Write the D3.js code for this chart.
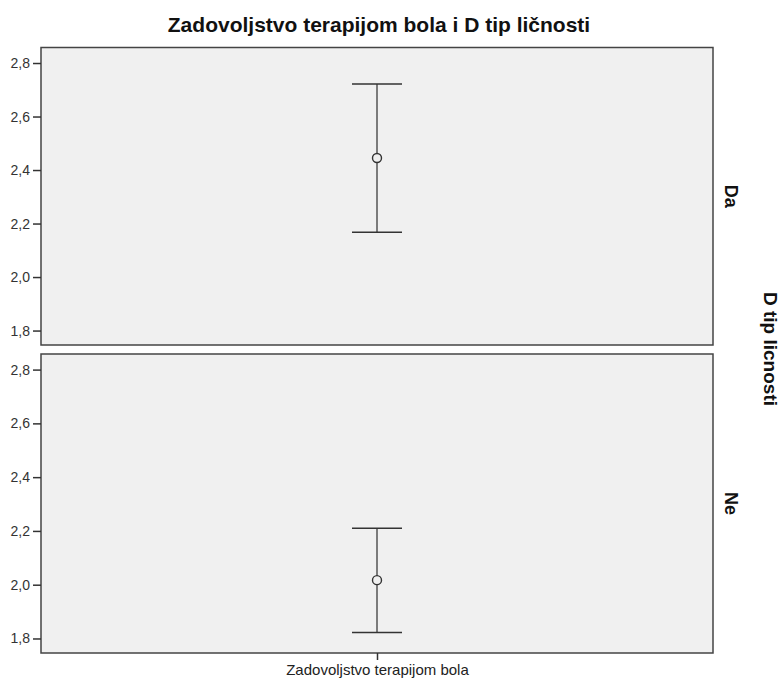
<!DOCTYPE html>
<html><head><meta charset="utf-8">
<script src="https://cdn.jsdelivr.net/npm/d3@7"></script>
<style>body{margin:0;background:#fff}svg{display:block}text{font-family:"Liberation Sans",Arial,sans-serif}</style>
</head><body>
<script>
const groups = ["Da", "Ne"];
const means = [2.445, 2.017];
const lower = [2.167, 1.822];
const upper = [2.722, 2.210];
const category = ["Zadovoljstvo terapijom bola"];
const yTicks = [1.8, 2.0, 2.2, 2.4, 2.6, 2.8];
const fmt = v => v.toFixed(1).replace(".", ",");

const W = 782, H = 681;
const svg = d3.select("body").append("svg").attr("width", W).attr("height", H);
const left = 41, right = 713;
const panels = [{top: 47.5, bottom: 345}, {top: 354, bottom: 653}];
const x = d3.scalePoint().domain(category).range([left, right]).padding(0.5);
const FF = "'Liberation Sans',Arial,sans-serif";

svg.append("text").attr("x", 379).attr("y", 31.5).attr("text-anchor", "middle")
  .attr("font-size", 21).attr("font-weight", "bold").attr("fill", "#111")
  .text("Zadovoljstvo terapijom bola i D tip ličnosti");

groups.forEach((g, i) => {
  const p = panels[i];
  const y = d3.scaleLinear().domain([1.746, 2.858]).range([p.bottom, p.top]);
  const gp = svg.append("g");
  gp.append("rect").attr("x", left).attr("y", p.top).attr("width", right - left).attr("height", p.bottom - p.top)
    .attr("fill", "#f0f0f0").attr("stroke", "#444").attr("stroke-width", 1.5);
  const ax = gp.append("g").attr("transform", `translate(${left},0)`)
    .call(d3.axisLeft(y).tickValues(yTicks).tickFormat(fmt).tickSize(8).tickPadding(3));
  ax.select(".domain").remove();
  ax.selectAll(".tick line").attr("stroke", "#333").attr("stroke-width", 1.5);
  ax.selectAll(".tick text").attr("font-size", 14).attr("fill", "#333").attr("font-family", FF);
  const cx = x(category[0]);
  gp.append("line").attr("x1", cx).attr("x2", cx).attr("y1", y(upper[i])).attr("y2", y(lower[i]))
    .attr("stroke", "#555").attr("stroke-width", 1.5);
  [upper[i], lower[i]].forEach(v => {
    gp.append("line").attr("x1", cx - 25).attr("x2", cx + 25).attr("y1", y(v)).attr("y2", y(v))
      .attr("stroke", "#333").attr("stroke-width", 1.5);
  });
  gp.append("circle").attr("cx", cx).attr("cy", y(means[i])).attr("r", 4.5)
    .attr("fill", "#f0f0f0").attr("stroke", "#333").attr("stroke-width", 1.4);
  const cy = (p.top + p.bottom) / 2;
  gp.append("text").attr("transform", `translate(${725},${cy}) rotate(90)`)
    .attr("text-anchor", "middle").attr("font-size", 18).attr("font-weight", "bold").attr("fill", "#111")
    .text(g);
});

svg.append("text").attr("transform", `translate(${764},${349}) rotate(90)`)
  .attr("text-anchor", "middle").attr("font-size", 19).attr("font-weight", "bold").attr("fill", "#111")
  .text("D tip licnosti");

const xa = svg.append("g").attr("transform", `translate(0,${panels[1].bottom})`)
  .call(d3.axisBottom(x).tickSize(7).tickPadding(4));
xa.select(".domain").remove();
xa.selectAll(".tick line").attr("stroke", "#333").attr("stroke-width", 1.5);
xa.selectAll(".tick text").attr("font-size", 15).attr("fill", "#222").attr("font-family", FF);
</script>
</body></html>
